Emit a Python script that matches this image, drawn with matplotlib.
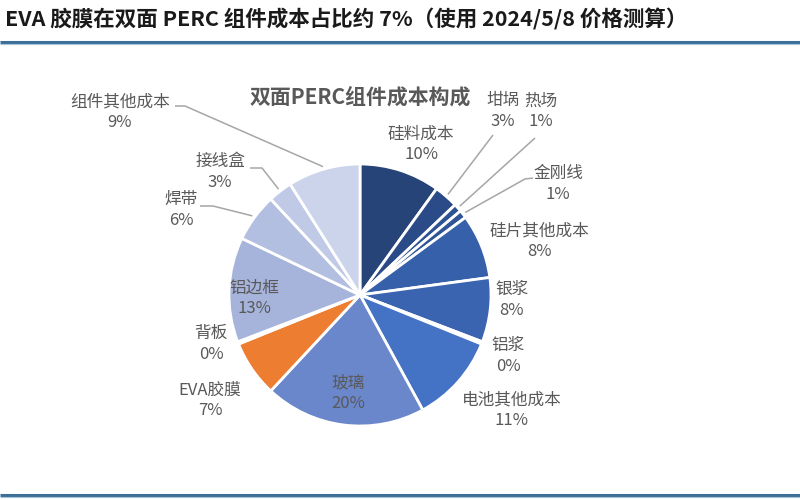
import matplotlib
matplotlib.use("Agg")
import matplotlib.pyplot as plt
import numpy as np

plt.rcParams['font.family'] = ['Noto Sans CJK SC', 'DejaVu Sans']

# ---- data ----
categories = ["硅料成本", "坩埚", "热场", "金刚线", "硅片其他成本", "银浆", "铝浆",
              "电池其他成本", "玻璃", "EVA胶膜", "背板", "铝边框", "焊带", "接线盒", "组件其他成本"]
shares = [10, 3, 1, 1, 8, 8, 0.3, 11, 20, 7, 0.3, 13, 6, 3, 9]
colors = ["#264478", "#2a4b87", "#2e5394", "#2f5597", "#3660a9", "#3a64b0", "#ffffff",
          "#4472c4", "#6a87cb", "#ed7d31", "#ffffff", "#a6b4dc", "#b3bfe1", "#c0cae7", "#ccd4ec"]
title = "EVA 胶膜在双面 PERC 组件成本占比约 7%（使用 2024/5/8 价格测算）"
chart_title = "双面PERC组件成本构成"

# ---- layout (pixel space, y measured from top) ----
label_pos = [(421, 144), (503, 111), (541, 111), (558, 184), (539, 241), (512, 300),
             (508, 356), (512, 410), (348, 393), (210, 400), (211, 344), (254, 298),
             (181, 210), (220, 172), (120, 112)]
# leader lines: index -> list of start points (text end, optional elbow)
leaders = {1: [(493, 135)], 2: [(535, 138)], 3: [(533, 178), (525, 179)],
           14: [(175, 106), (185, 106)], 13: [(250, 168), (262, 168)],
           12: [(200, 206), (213, 206)]}

W, H = 800, 500
fig = plt.figure(figsize=(8, 5), dpi=100)
ax = fig.add_axes([0, 0, 1, 1])

cx, cy, R = 360, H - 295, 131
wedges, _ = ax.pie(shares, colors=colors, startangle=90, counterclock=False,
                   center=(cx, cy), radius=R, frame=True,
                   wedgeprops=dict(edgecolor='white', linewidth=2))
ax.set_xlim(0, W)
ax.set_ylim(0, H)
ax.set_aspect('equal')
ax.axis('off')

txt_color = "#595959"
for i, (name, v) in enumerate(zip(categories, shares)):
    x, y = label_pos[i]
    ax.text(x, H - y, f"{name}\n{v:.0f}%", ha='center', va='center',
            fontsize=12, color=txt_color, linespacing=1.25)

for i, pts in leaders.items():
    w = wedges[i]
    mid = np.deg2rad((w.theta1 + w.theta2) / 2)
    ex, ey = cx + 1.02 * R * np.cos(mid), cy + 1.02 * R * np.sin(mid)
    xs = [p[0] for p in pts] + [ex]
    ys = [H - p[1] for p in pts] + [ey]
    ax.plot(xs, ys, color="#a6a6a6", lw=1.1, solid_capstyle='butt')

ax.text(cx, H - 97, chart_title, ha='center', va='center', fontsize=15,
        fontweight='bold', color=txt_color)

fig.text(5 / W, 1 - 19 / H, title, ha='left', va='center', fontsize=15.5,
         fontweight='bold', color='#1a1a1a')

for yy in (42, 495):
    ax.plot([0, W], [H - yy, H - yy], color='#3b6f98', lw=2.2, solid_capstyle='butt')
    ax.plot([0, W], [H - yy - 1.6, H - yy - 1.6], color='#a9c3d8', lw=0.8, solid_capstyle='butt')

fig.savefig("out.png", dpi=100)
